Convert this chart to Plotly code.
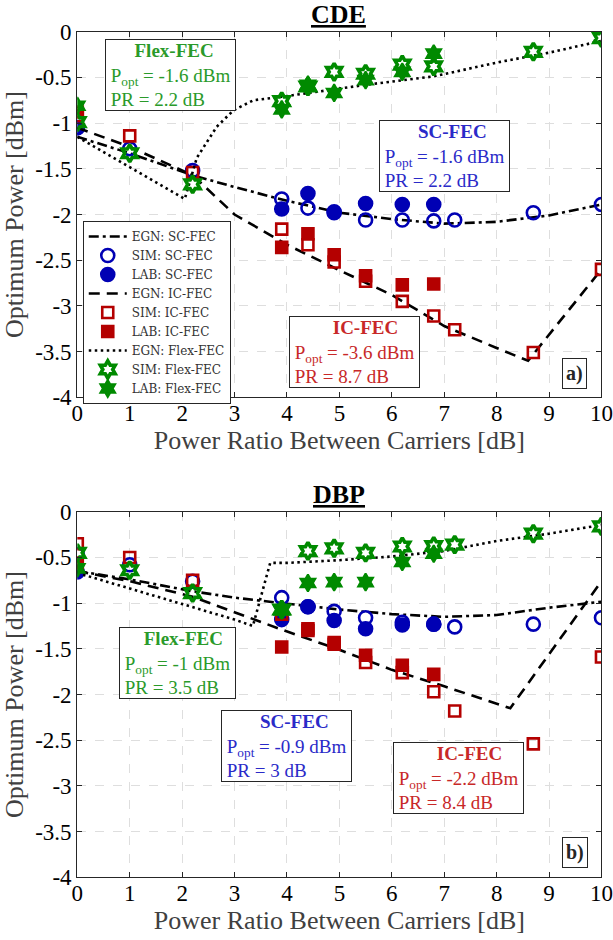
import plotly.graph_objects as go

# ---------------- DATA ----------------
x_ticks = [0, 1, 2, 3, 4, 5, 6, 7, 8, 9, 10]
y_ticks = [0, -0.5, -1, -1.5, -2, -2.5, -3, -3.5, -4]
y_ticktext = ["0", "-0.5", "-1", "-1.5", "-2", "-2.5", "-3", "-3.5", "-4"]

# --- CDE (top) ---
cde_egn_sc_x = [0, 1, 2.2, 3, 4, 5, 6, 7, 8, 9, 10]
cde_egn_sc_y = [-1.15, -1.33, -1.57, -1.70, -1.85, -1.98, -2.05, -2.10, -2.08, -2.01, -1.89]
cde_sim_sc_x = [0, 1, 2.2, 3.9, 4.4, 4.9, 5.5, 6.2, 6.8, 7.2, 8.7, 10]
cde_sim_sc_y = [-1.05, -1.28, -1.52, -1.83, -1.93, -1.98, -2.06, -2.06, -2.07, -2.06, -1.98, -1.89]
cde_lab_sc_x = [0, 3.9, 4.4, 4.9, 5.5, 6.2, 6.8]
cde_lab_sc_y = [-1.05, -1.94, -1.77, -1.97, -1.88, -1.89, -1.89]

cde_egn_ic_x = [0, 1, 2.2, 3, 4, 5, 6, 7, 8, 8.6, 10]
cde_egn_ic_y = [-1.05, -1.26, -1.57, -2.00, -2.33, -2.61, -2.88, -3.22, -3.46, -3.60, -2.60]
cde_sim_ic_x = [0, 1, 2.2, 3.9, 4.4, 4.9, 5.5, 6.2, 6.8, 7.2, 8.7, 10]
cde_sim_ic_y = [-0.92, -1.14, -1.54, -2.16, -2.33, -2.52, -2.73, -2.95, -3.11, -3.26, -3.51, -2.60]
cde_lab_ic_x = [0, 3.9, 4.4, 4.9, 5.5, 6.2, 6.8]
cde_lab_ic_y = [-0.88, -2.36, -2.21, -2.44, -2.67, -2.77, -2.76]

cde_egn_flex_x = [0, 1, 2.05, 2.28, 2.66, 2.98, 3.36, 3.93, 4.44, 5.52, 6.79, 8.07, 9, 10]
cde_egn_flex_y = [-1.15, -1.48, -1.83, -1.38, -1.04, -0.86, -0.75, -0.71, -0.67, -0.58, -0.49, -0.33, -0.23, -0.10]
cde_sim_flex_x = [0, 1, 2.2, 3.9, 4.4, 4.9, 5.5, 6.2, 6.8, 8.7, 10]
cde_sim_flex_y = [-0.99, -1.33, -1.67, -0.76, -0.60, -0.44, -0.46, -0.36, -0.38, -0.22, -0.07]
cde_lab_flex_x = [0, 3.9, 4.4, 4.9, 5.5, 6.2, 6.8]
cde_lab_flex_y = [-0.81, -0.85, -0.58, -0.67, -0.53, -0.44, -0.24]

# --- DBP (bottom) ---
dbp_egn_sc_x = [0, 1, 2.2, 3, 3.9, 5, 6, 7, 8, 9, 10]
dbp_egn_sc_y = [-0.65, -0.74, -0.87, -0.94, -1.00, -1.07, -1.12, -1.15, -1.13, -1.05, -0.985]
dbp_sim_sc_x = [0, 1, 2.2, 3.9, 4.4, 4.9, 5.5, 6.2, 6.8, 7.2, 8.7, 10]
dbp_sim_sc_y = [-0.47, -0.58, -0.76, -0.94, -1.04, -1.09, -1.16, -1.21, -1.23, -1.26, -1.23, -1.16]
dbp_lab_sc_x = [0, 3.9, 4.4, 4.9, 5.5, 6.2, 6.8]
dbp_lab_sc_y = [-0.66, -1.18, -1.04, -1.19, -1.28, -1.24, -1.23]

dbp_egn_ic_x = [0, 1, 2.2, 3, 3.9, 5, 6, 7, 8.26, 10]
dbp_egn_ic_y = [-0.65, -0.76, -0.93, -1.10, -1.29, -1.51, -1.73, -1.91, -2.15, -0.76]
dbp_sim_ic_x = [0, 1, 2.2, 3.9, 4.4, 4.9, 5.5, 6.2, 6.8, 7.2, 8.7, 10]
dbp_sim_ic_y = [-0.35, -0.50, -0.75, -1.12, -1.30, -1.45, -1.65, -1.76, -1.97, -2.18, -2.54, -1.59]
dbp_lab_ic_x = [0, 3.9, 4.4, 4.9, 5.5, 6.2, 6.8]
dbp_lab_ic_y = [-0.56, -1.48, -1.28, -1.43, -1.57, -1.68, -1.78]

dbp_egn_flex_x = [0, 1, 2, 3, 3.35, 3.68, 4, 5, 6, 7, 8, 9, 10]
dbp_egn_flex_y = [-0.67, -0.84, -1.01, -1.18, -1.25, -0.56, -0.56, -0.53, -0.49, -0.43, -0.32, -0.24, -0.145]
dbp_sim_flex_x = [0, 1, 2.2, 3.9, 4.4, 4.9, 5.5, 6.2, 6.8, 7.2, 8.7, 10]
dbp_sim_flex_y = [-0.45, -0.64, -0.89, -1.07, -0.43, -0.40, -0.45, -0.38, -0.375, -0.36, -0.24, -0.16]
dbp_lab_flex_x = [0, 3.9, 4.4, 4.9, 5.5, 6.2, 6.8]
dbp_lab_flex_y = [-0.62, -1.08, -0.78, -0.77, -0.77, -0.55, -0.46]

# annotation contents
cde_labels = {"Flex-FEC": ("-1.6", "2.2"), "SC-FEC": ("-1.6", "2.2"), "IC-FEC": ("-3.6", "8.7")}
dbp_labels = {"Flex-FEC": ("-1", "3.5"), "SC-FEC": ("-0.9", "3"), "IC-FEC": ("-2.2", "8.4")}

# ---------------- STYLE ----------------
FONT = "Liberation Serif"
LEGFONT = "DejaVu Serif"
BLUE = "#0000b4"
RED = "#b40000"
GREEN = "#008a00"
TXT = {"SC-FEC": "#2a2ac8", "IC-FEC": "#c82828", "Flex-FEC": "#2a9a2a"}
LW = 2.6
DASHDOT = "10px,4px,3px,4px"
DASHED = "11px,7px"
DOTTED = "2.5px,3.5px"

fig = go.Figure()


def add_panel(d, xa, ya, show):
    specs = [
        ("EGN: SC-FEC", d["egn_sc"], "line", DASHDOT, None),
        ("SIM: SC-FEC", d["sim_sc"], "marker", "circle-open", BLUE),
        ("LAB: SC-FEC", d["lab_sc"], "marker", "circle", BLUE),
        ("EGN: IC-FEC", d["egn_ic"], "line", DASHED, None),
        ("SIM: IC-FEC", d["sim_ic"], "marker", "square-open", RED),
        ("LAB: IC-FEC", d["lab_ic"], "marker", "square", RED),
        ("EGN: Flex-FEC", d["egn_flex"], "line", DOTTED, None),
        ("SIM: Flex-FEC", d["sim_flex"], "marker", "hexagram-open", GREEN),
        ("LAB: Flex-FEC", d["lab_flex"], "marker", "hexagram", GREEN),
    ]
    for name, (xs, ys), kind, sty, col in specs:
        if kind == "line":
            fig.add_trace(go.Scatter(x=xs, y=ys, mode="lines", name=name, xaxis=xa, yaxis=ya,
                                     showlegend=show,
                                     line=dict(color="black", width=LW, dash=sty)))
        else:
            if sty.startswith("circle"):
                size, lw = 13, 2.6
            elif sty.startswith("square"):
                size, lw = 11, 2.6
            elif sty == "hexagram-open":
                size, lw = 13, 3.6
            else:
                size, lw = 13, 2.0
            fig.add_trace(go.Scatter(x=xs, y=ys, mode="markers", name=name, xaxis=xa, yaxis=ya,
                                     showlegend=show,
                                     marker=dict(symbol=sty, size=size, color=col,
                                                 line=dict(color=col, width=lw))))


top = {
    "egn_sc": (cde_egn_sc_x, cde_egn_sc_y), "sim_sc": (cde_sim_sc_x, cde_sim_sc_y),
    "lab_sc": (cde_lab_sc_x, cde_lab_sc_y), "egn_ic": (cde_egn_ic_x, cde_egn_ic_y),
    "sim_ic": (cde_sim_ic_x, cde_sim_ic_y), "lab_ic": (cde_lab_ic_x, cde_lab_ic_y),
    "egn_flex": (cde_egn_flex_x, cde_egn_flex_y), "sim_flex": (cde_sim_flex_x, cde_sim_flex_y),
    "lab_flex": (cde_lab_flex_x, cde_lab_flex_y),
}
bot = {
    "egn_sc": (dbp_egn_sc_x, dbp_egn_sc_y), "sim_sc": (dbp_sim_sc_x, dbp_sim_sc_y),
    "lab_sc": (dbp_lab_sc_x, dbp_lab_sc_y), "egn_ic": (dbp_egn_ic_x, dbp_egn_ic_y),
    "sim_ic": (dbp_sim_ic_x, dbp_sim_ic_y), "lab_ic": (dbp_lab_ic_x, dbp_lab_ic_y),
    "egn_flex": (dbp_egn_flex_x, dbp_egn_flex_y), "sim_flex": (dbp_sim_flex_x, dbp_sim_flex_y),
    "lab_flex": (dbp_lab_flex_x, dbp_lab_flex_y),
}
add_panel(top, "x", "y", True)
add_panel(bot, "x2", "y2", False)

XD = [0.1261, 0.9812]
axis_common = dict(
    automargin=False,
    showline=True, linecolor="#262626", linewidth=1.2, mirror="ticks",
    ticks="inside", ticklen=5, tickcolor="#262626",
    showgrid=True, gridcolor="#dedede", griddash="dash", gridwidth=1,
    zeroline=False, tickfont=dict(family=FONT, size=23, color="black"),
)
xax = dict(axis_common, range=[0, 10], tickvals=x_ticks, domain=XD, ticklabelstandoff=-5,
           title=dict(text="Power Ratio Between Carriers [dB]",
                      font=dict(family=FONT, size=26, color="#404040"), standoff=3))
yax = dict(axis_common, range=[-4, 0], tickvals=y_ticks, ticktext=y_ticktext,
           title=dict(text="Optimum Power [dBm]",
                      font=dict(family=FONT, size=26, color="#404040"), standoff=4))

fig.update_layout(
    width=613, height=940, margin=dict(l=0, r=0, t=0, b=0),
    paper_bgcolor="white", plot_bgcolor="white",
    xaxis=dict(xax, anchor="y"),
    yaxis=dict(yax, anchor="x", domain=[0.5773, 0.9663]),
    xaxis2=dict(xax, anchor="y2"),
    yaxis2=dict(yax, anchor="x2", domain=[0.0667, 0.4556]),
    showlegend=True,
    legend=dict(x=0.135, y=1 - 221 / 940, xanchor="left", yanchor="top",
                bgcolor="white", bordercolor="#262626", borderwidth=1,
                font=dict(family=LEGFONT, size=12, color="#333333"),
                tracegroupgap=0, itemwidth=38),
)

NB = "\u00a0"


def box(text_title, popt, pr, xr, yr, x, y, color, pad_title):
    txt = (NB * pad_title + "<b>" + text_title + "</b><br>" + NB + "P<sub>opt</sub> = " + popt
           + " dBm" + NB + "<br>" + NB + "PR = " + pr + " dB")
    fig.add_annotation(x=x, y=y, xref=xr, yref=yr, text=txt, showarrow=False,
                       align="left", xanchor="center", yanchor="middle",
                       font=dict(family=FONT, size=19, color=color),
                       bordercolor="#262626", borderwidth=1, borderpad=0, bgcolor="white")


# top boxes
box("Flex-FEC", *cde_labels["Flex-FEC"], "x", "y", 1.78, -0.476, TXT["Flex-FEC"], 6)
box("SC-FEC", *cde_labels["SC-FEC"], "x", "y", 7.0, -1.362, TXT["SC-FEC"], 8)
box("IC-FEC", *cde_labels["IC-FEC"], "x", "y", 5.28, -3.50, TXT["IC-FEC"], 9)
# bottom boxes
box("Flex-FEC", *dbp_labels["Flex-FEC"], "x2", "y2", 1.91, -1.655, TXT["Flex-FEC"], 5)
box("SC-FEC", *dbp_labels["SC-FEC"], "x2", "y2", 4.0, -2.562, TXT["SC-FEC"], 8)
box("IC-FEC", *dbp_labels["IC-FEC"], "x2", "y2", 7.28, -2.913, TXT["IC-FEC"], 9)

for lab, xr, yr, yv in [("a)", "x", "y", -3.737), ("b)", "x2", "y2", -3.724)]:
    fig.add_annotation(x=9.49, y=yv, xref=xr, yref=yr, text="<b>" + lab + "</b>", showarrow=False,
                       xanchor="center", yanchor="middle",
                       font=dict(family=FONT, size=20, color="#262626"),
                       bordercolor="#262626", borderwidth=1, borderpad=3, bgcolor="white")

for t, yp in [("CDE", 1 - 15 / 940), ("DBP", 1 - 495 / 940)]:
    fig.add_annotation(x=0.553, y=yp, xref="paper", yref="paper",
                       text='<b><span style="text-decoration:underline">' + t + '</span></b>',
                       showarrow=False, xanchor="center", yanchor="middle",
                       font=dict(family=FONT, size=26, color="black"))

fig.write_html("out.html")
